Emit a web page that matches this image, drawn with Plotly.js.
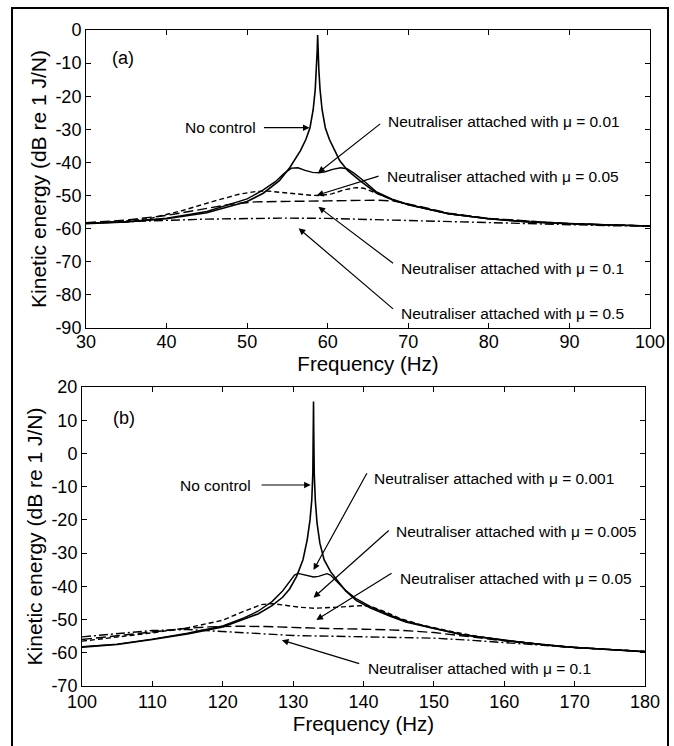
<!DOCTYPE html>
<html>
<head>
<meta charset="utf-8">
<script src="https://cdn.plot.ly/plotly-3.0.1.min.js"></script>
<style>html,body{margin:0;padding:0;background:#fff}#chart{width:674px;height:746px}</style>
</head>
<body>
<div id="chart"></div>
<script>
// ---------- Panel (a) data ----------
const aNoCtrlF = [30,35,40,45,50,52,54,55.3,56.6,57.3,57.8,58.2,58.45,58.6,58.7,58.75,58.8,58.9,59.05,59.3,59.7,60.2,60.9,61.5,62.5,64,66,68,70,75,80,85,90,95,100];
const aNoCtrlKE = [-58.5,-58,-57,-55.2,-51.8,-49.3,-45.5,-41.5,-36.5,-33,-29.5,-24,-18,-12,-6,-1.5,-6,-12,-18,-24,-29.5,-33,-36.5,-39.5,-42.5,-45.5,-49.2,-51.3,-52.8,-55.5,-57,-58,-58.5,-58.9,-59.2];

const aMu001F = [30,35,40,45,50,52,53.5,54.6,55.5,56.3,57.2,58.1,58.9,59.7,60.6,61.6,62.4,63.3,64.5,66,68,70,75,80,85,90,95,100];
const aMu001KE = [-58.4,-57.9,-56.8,-54.8,-51,-48.3,-45.8,-43.3,-41.7,-41.6,-42.4,-43,-43.1,-42.8,-42.1,-41.6,-41.9,-43.3,-45.6,-48.8,-51.1,-52.7,-55.5,-57,-58,-58.5,-58.9,-59.2];

const aMu005F = [30,35,38,42,46,49,51,52.5,54,56,58,59,60.5,62,63.5,64.5,66,68,70,75,80,90,100];
const aMu005KE = [-58.4,-57.7,-56.9,-54.5,-51.6,-49.6,-48.8,-48.6,-49,-49.5,-49.9,-50,-49.5,-48.3,-47.6,-47.8,-49.3,-51.2,-52.8,-55.5,-57,-58.5,-59.2];

const aMu01F = [30,35,40,44,48,51,54,57,60,63,66,68,70,75,80,90,100];
const aMu01KE = [-58.2,-57.4,-56,-54.3,-52.6,-51.9,-51.7,-51.7,-51.6,-51.4,-51.4,-51.6,-52.5,-55.3,-56.9,-58.5,-59.2];

const aMu05F = [30,35,40,45,50,55,60,65,70,75,80,85,90,95,100];
const aMu05KE = [-58.3,-58,-57.5,-57.1,-56.9,-56.8,-56.9,-57.2,-57.6,-58,-58.3,-58.6,-58.9,-59.1,-59.2];

// ---------- Panel (b) data ----------
const bNoCtrlF = [100,105,110,115,120,123,125,127,128.5,129.5,130.5,131.4,132,132.4,132.65,132.8,132.86,132.9,132.94,133,133.15,133.4,133.8,134.4,135.3,136.2,137.5,139,141,143.8,146,149.4,154,158.9,163,168.4,174,180];
const bNoCtrlKE = [-58.3,-57.5,-56,-54.3,-52.2,-50,-48.3,-45.8,-43.3,-40.8,-37,-32,-26,-20,-14,-6,5,15.6,5,-6,-14,-21,-27,-32,-35.5,-38,-41.5,-44.3,-46.5,-49,-50.7,-52.4,-54.6,-55.9,-57,-58.2,-59,-59.7];

const bMu0001F = [100,105,110,115,120,123,125,127,128.5,129.5,130.2,130.7,131.5,132.3,132.9,133.6,134.3,134.8,135.3,136.2,137.5,139,141,143.8,146,149.4,154,158.9,163,168.4,174,180];
const bMu0001KE = [-58.2,-57.4,-55.9,-54.1,-51.9,-49.5,-47.5,-44.6,-41.4,-38.5,-36.6,-36.1,-36.5,-37,-37.2,-37,-36.5,-36.2,-36.6,-38.5,-41.3,-43.8,-46.1,-48.7,-50.5,-52.3,-54.5,-55.9,-57,-58.2,-59,-59.7];

const bMu0005F = [100,105,110,115,120,123,125.5,127,129,131,133,135,137,139.5,141,143,145,148,152,156,160,170,180];
const bMu0005KE = [-56.5,-55.3,-54,-52.5,-50.2,-47.5,-45.5,-45.2,-45.8,-46.3,-46.6,-46.5,-46.2,-45.8,-46,-47.6,-49.5,-51.5,-53.4,-55,-56.3,-58.4,-59.6];

const bMu005F = [100,105,110,115,118,122,126,130,135,140,145,150,155,160,170,180];
const bMu005KE = [-56,-54.8,-53.6,-52.6,-52.2,-52,-52.1,-52.4,-52.7,-52.9,-53.2,-53.9,-55.1,-56.4,-58.4,-59.6];

const bMu01F = [100,105,110,115,120,125,130,135,140,145,150,155,160,170,180];
const bMu01KE = [-55.2,-54.2,-53.3,-53,-53.6,-54.3,-54.8,-55,-55.2,-55.4,-55.6,-56.2,-57,-58.4,-59.6];

// ---------- Tick labels ----------
const aXTicks = [30,40,50,60,70,80,90,100];
const aYTicks = [0,-10,-20,-30,-40,-50,-60,-70,-80,-90];
const aYTickText = ['0','-10','-20','-30','-40','-50','-60','-70','-80','-90'];
const bXTicks = [100,110,120,130,140,150,160,170,180];
const bYTicks = [20,10,0,-10,-20,-30,-40,-50,-60,-70];
const bYTickText = ['20','10','0','-10','-20','-30','-40','-50','-60','-70'];

// ---------- Labels ----------
const xTitle = 'Frequency (Hz)';
const yTitle = 'Kinetic energy (dB re 1 J/N)';
const labelsA = ['No control','Neutraliser attached with \u03bc = 0.01','Neutraliser attached with \u03bc = 0.05','Neutraliser attached with \u03bc = 0.1','Neutraliser attached with \u03bc = 0.5'];
const labelsB = ['No control','Neutraliser attached with \u03bc = 0.001','Neutraliser attached with \u03bc = 0.005','Neutraliser attached with \u03bc = 0.05','Neutraliser attached with \u03bc = 0.1'];

// ---------- Styles ----------
const SOLID = 'solid', SHORT = '5px,3px', LONG = '10px,4px', DASHDOT = '9px,3px,2px,3px';
function tr(x, y, dash, w, xa, ya) {
  return {x: x, y: y, type: 'scatter', mode: 'lines', xaxis: xa, yaxis: ya,
          line: {color: '#000', width: w, dash: dash}, hoverinfo: 'skip'};
}
const data = [
  tr(aNoCtrlF, aNoCtrlKE, SOLID, 1.6, 'x', 'y'),
  tr(aMu001F, aMu001KE, SOLID, 1.4, 'x', 'y'),
  tr(aMu005F, aMu005KE, SHORT, 1.4, 'x', 'y'),
  tr(aMu01F, aMu01KE, LONG, 1.4, 'x', 'y'),
  tr(aMu05F, aMu05KE, DASHDOT, 1.4, 'x', 'y'),
  tr(bNoCtrlF, bNoCtrlKE, SOLID, 1.6, 'x2', 'y2'),
  tr(bMu0001F, bMu0001KE, SOLID, 1.4, 'x2', 'y2'),
  tr(bMu0005F, bMu0005KE, SHORT, 1.4, 'x2', 'y2'),
  tr(bMu005F, bMu005KE, LONG, 1.4, 'x2', 'y2'),
  tr(bMu01F, bMu01KE, DASHDOT, 1.4, 'x2', 'y2')
];

const FONT = 'Liberation Sans, Arial, Helvetica, sans-serif';
function axis(extra) {
  return Object.assign({
    showline: true, linecolor: '#000', linewidth: 1, mirror: 'ticks',
    ticks: 'inside', ticklen: 5, tickwidth: 1, tickcolor: '#000',
    showgrid: false, zeroline: false, fixedrange: true,
    tickfont: {family: FONT, size: 18, color: '#000'}
  }, extra);
}

// text labels (no arrows)
function txt(text, x, y, xr, yr, anchor, size) {
  return {text: text, x: x, y: y, xref: xr, yref: yr, showarrow: false,
          xanchor: anchor, yanchor: 'middle', font: {family: FONT, size: size || 15.5, color: '#000'}};
}
// arrows (tail -> tip)
function arr(tx, ty, hx, hy, xr, yr) {
  return {text: '', x: hx, y: hy, ax: tx, ay: ty, xref: xr, yref: yr, axref: xr, ayref: yr,
          showarrow: true, arrowhead: 2, arrowsize: 1.1, arrowwidth: 1.2, arrowcolor: '#000',
          standoff: 0, startstandoff: 0};
}

const annotations = [
  txt('(a)', 34.6, -8.5, 'x', 'y', 'center', 18),
  txt(labelsA[0], 51.3, -29.5, 'x', 'y', 'right'),
  arr(51.9, -29.5, 57.75, -29.5, 'x', 'y'),
  txt(labelsA[1], 67.2, -27.5, 'x', 'y', 'left'),
  arr(66.7, -28, 58.8, -43.1, 'x', 'y'),
  txt(labelsA[2], 67.1, -44.3, 'x', 'y', 'left'),
  arr(66.5, -44, 58.65, -49.9, 'x', 'y'),
  txt(labelsA[3], 68.8, -71.9, 'x', 'y', 'left'),
  arr(68.3, -70.8, 58.85, -53.4, 'x', 'y'),
  txt(labelsA[4], 68.8, -85.5, 'x', 'y', 'left'),
  arr(68.3, -84.6, 56.4, -59.9, 'x', 'y'),

  txt('(b)', 106, 10.7, 'x2', 'y2', 'center', 18),
  txt(labelsB[0], 124.3, -9.5, 'x2', 'y2', 'right'),
  arr(125.3, -9.5, 132.5, -9.5, 'x2', 'y2'),
  txt(labelsB[1], 141.2, -7.4, 'x2', 'y2', 'left'),
  arr(140.6, -5.5, 132.9, -35.1, 'x2', 'y2'),
  txt(labelsB[2], 144.3, -23.6, 'x2', 'y2', 'left'),
  arr(143.8, -22.8, 132.9, -43.4, 'x2', 'y2'),
  txt(labelsB[3], 144.9, -37.5, 'x2', 'y2', 'left'),
  arr(144.2, -35.8, 133.3, -50.1, 'x2', 'y2'),
  txt(labelsB[4], 140.3, -64.6, 'x2', 'y2', 'left'),
  arr(139.6, -63.4, 128.4, -56.2, 'x2', 'y2')
];

const layout = {
  width: 674, height: 746,
  margin: {l: 82, r: 24, t: 30, b: 60},
  paper_bgcolor: '#fff', plot_bgcolor: '#fff',
  showlegend: false,
  font: {family: FONT, color: '#000', size: 16},
  xaxis: axis({domain: [0.00704, 1], range: [30, 100], tickmode: 'array', tickvals: aXTicks, anchor: 'y',
    ticklabelstandoff: -3,
    title: {text: xTitle, font: {family: FONT, size: 20.5, color: '#000'}, standoff: 0}}),
  yaxis: axis({domain: [0.5457, 1], range: [-90, 0], tickmode: 'array', tickvals: aYTicks, ticktext: aYTickText, anchor: 'x',
    title: {text: yTitle, font: {family: FONT, size: 21, color: '#000'}, standoff: 3}}),
  xaxis2: axis({domain: [0, 0.9912], range: [100, 180], tickmode: 'array', tickvals: bXTicks, anchor: 'y2',
    ticklabelstandoff: -1,
    title: {text: xTitle, font: {family: FONT, size: 20.5, color: '#000'}, standoff: 0}}),
  yaxis2: axis({domain: [0, 0.4558], range: [-70, 20], tickmode: 'array', tickvals: bYTicks, ticktext: bYTickText, anchor: 'x2',
    title: {text: yTitle, font: {family: FONT, size: 21, color: '#000'}, standoff: 3}}),
  annotations: annotations,
  shapes: [
    {type: 'rect', xref: 'paper', yref: 'paper', x0: -0.1232, x1: 1.0317, y0: -0.12, y1: 1.0335,
     line: {color: '#000', width: 2}, fillcolor: 'rgba(0,0,0,0)'}
  ]
};

Plotly.newPlot('chart', data, layout, {staticPlot: true, displayModeBar: false});
</script>
</body>
</html>
